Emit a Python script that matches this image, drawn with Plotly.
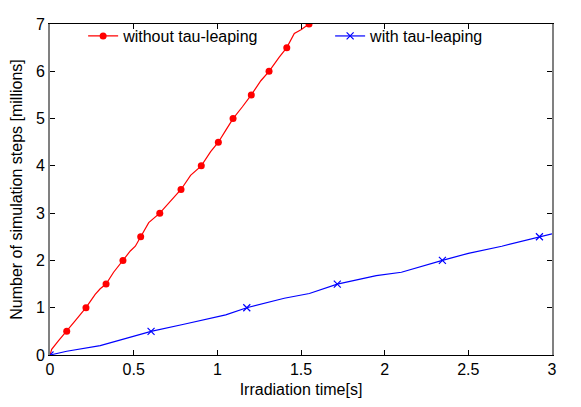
import plotly.graph_objects as go

# without tau-leaping: simulation steps [millions] vs irradiation time [s]
t_without = [0, 0.01, 0.05, 0.10, 0.15, 0.215, 0.27, 0.30, 0.335, 0.38, 0.436, 0.48, 0.51,
             0.542, 0.59, 0.656, 0.72, 0.783, 0.84, 0.904, 0.96, 1.006, 1.05, 1.094, 1.15,
             1.203, 1.26, 1.309, 1.37, 1.415, 1.46, 1.50, 1.548]
s_without = [0, 0.12, 0.3, 0.5, 0.72, 1.0, 1.28, 1.4, 1.5, 1.75, 2.0, 2.2, 2.3,
             2.5, 2.8, 3.0, 3.25, 3.5, 3.8, 4.0, 4.3, 4.5, 4.75, 5.0, 5.25,
             5.5, 5.8, 6.0, 6.3, 6.5, 6.8, 6.88, 7.0]
mk_t_without = [0.10, 0.215, 0.335, 0.436, 0.542, 0.656, 0.783, 0.904, 1.006, 1.094,
                1.203, 1.309, 1.415, 1.548]
mk_s_without = [0.5, 1.0, 1.5, 2.0, 2.5, 3.0, 3.5, 4.0, 4.5, 5.0, 5.5, 6.0, 6.5, 7.0]

# with tau-leaping
t_with = [0, 0.1, 0.3, 0.45, 0.604, 0.8, 1.05, 1.176, 1.4, 1.55, 1.717, 1.95, 2.1,
          2.345, 2.5, 2.7, 2.925, 3.0]
s_with = [0, 0.08, 0.2, 0.35, 0.5, 0.65, 0.85, 1.0, 1.2, 1.3, 1.5, 1.68, 1.75,
          2.0, 2.15, 2.3, 2.5, 2.56]
mk_t_with = [0, 0.604, 1.176, 1.717, 2.345, 2.925]
mk_s_with = [0, 0.5, 1.0, 1.5, 2.0, 2.5]

RED = "#ff0000"
BLUE = "#0000ff"
font = dict(family="Liberation Sans, Arial, sans-serif", size=16, color="black")

fig = go.Figure()
fig.add_trace(go.Scatter(x=t_without, y=s_without, mode="lines",
                         line=dict(color=RED, width=1.2), showlegend=False))
fig.add_trace(go.Scatter(x=mk_t_without, y=mk_s_without, mode="markers",
                         marker=dict(color=RED, size=7, symbol="circle"), showlegend=False))
fig.add_trace(go.Scatter(x=t_with, y=s_with, mode="lines",
                         line=dict(color=BLUE, width=1.2), showlegend=False))
fig.add_trace(go.Scatter(x=mk_t_with, y=mk_s_with, mode="markers",
                         marker=dict(color=BLUE, size=7, symbol="x-thin",
                                     line=dict(color=BLUE, width=1.2)), showlegend=False))
# legend entries
fig.add_trace(go.Scatter(x=[None], y=[None], mode="lines+markers", name="without tau-leaping",
                         line=dict(color=RED, width=1.2),
                         marker=dict(color=RED, size=7, symbol="circle"), legend="legend"))
fig.add_trace(go.Scatter(x=[None], y=[None], mode="lines+markers", name="with tau-leaping",
                         line=dict(color=BLUE, width=1.2),
                         marker=dict(color=BLUE, size=7, symbol="x-thin",
                                     line=dict(color=BLUE, width=1.2)), legend="legend2"))

axis_common = dict(showgrid=False, zeroline=False, ticks="inside", ticklen=5,
                   tickcolor="black", mirror="allticks", showline=True, tickfont=font,
                   automargin=False)

leg = dict(yanchor="top", y=1.015, xanchor="left", bgcolor="rgba(0,0,0,0)", font=font)

# page body adds an 8px offset, so the figure is a bit smaller than the window
fig.update_layout(
    width=573, height=399,
    margin=dict(l=42, r=29, t=11, b=52),
    paper_bgcolor="white", plot_bgcolor="white",
    font=font,
    xaxis=dict(range=[0, 3], dtick=0.5, linecolor="black", linewidth=1,
               title=dict(text="Irradiation time[s]", font=font, standoff=6),
               **axis_common),
    yaxis=dict(range=[0, 7], dtick=1, linecolor="#808080", linewidth=2,
               title=dict(text="Number of simulation steps [millions]", font=font, standoff=10),
               **axis_common),
    legend=dict(x=0.066, **leg),
    legend2=dict(x=0.558, **leg),
)

fig.write_html("out.html")
